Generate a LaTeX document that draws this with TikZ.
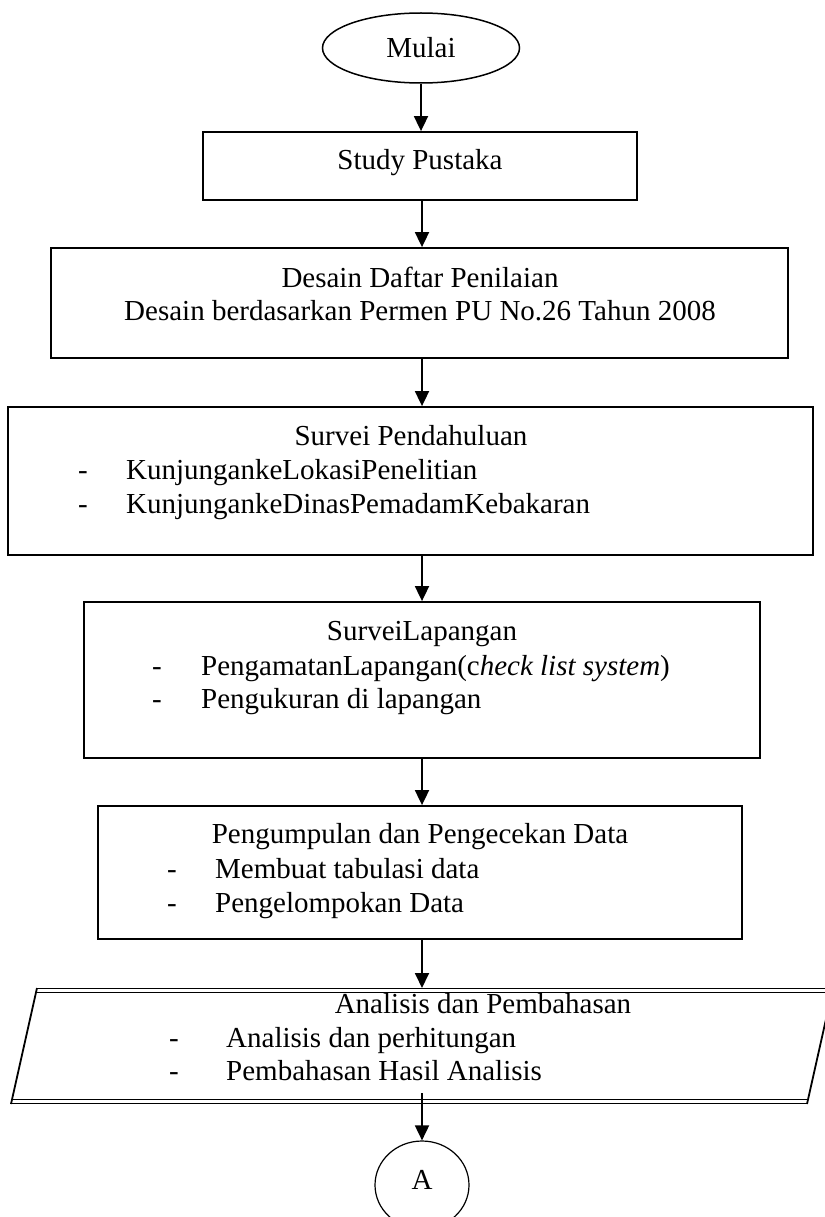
\documentclass[tikz,border=0pt]{standalone}
\usepackage{fontspec}
\setmainfont{Liberation Serif}
\usetikzlibrary{arrows.meta,shapes.geometric}
\begin{document}
\begin{tikzpicture}[x=1pt,y=-1pt,
  box/.style={draw,line width=1.8pt,rectangle,inner sep=0pt},
  lbl/.style={anchor=base,inner sep=0pt,font=\fontsize{29}{34}\selectfont},
  lbll/.style={anchor=base west,inner sep=0pt,font=\fontsize{29}{34}\selectfont},
  arr/.style={line width=1.8pt,-{Triangle[length=15pt,width=14pt]}},
  edge/.style={line width=1.8pt},
  thinedge/.style={line width=1.3pt},
]
\useasboundingbox (0,0) rectangle (824,1217);

% start / end terminals
\node[ellipse,draw,line width=1.5pt,minimum width=197pt,minimum height=70pt,inner sep=0pt] (mulai) at (421,48) {};
\node[lbl] (tmulai) at (421,58) {Mulai};

\node[ellipse,draw,line width=1.2pt,minimum width=94pt,minimum height=88pt,inner sep=0pt] (A) at (422,1185) {};
\node[lbl] (tA) at (422,1189) {A};

% Study Pustaka
\node[box,minimum width=434pt,minimum height=68pt] (study) at (420,166) {};
\node[lbl] (tstudy) at (420,170) {Study Pustaka};

% Desain
\node[box,minimum width=737pt,minimum height=110pt] (desain) at (419.5,303) {};
\node[lbl] (tdesain1) at (420,287) {Desain Daftar Penilaian};
\node[lbl] (tdesain2) at (420,320) {Desain berdasarkan Permen PU No.26 Tahun 2008};

% Survei Pendahuluan
\node[box,minimum width=805pt,minimum height=148pt] (survei) at (410.5,481) {};
\node[lbl] (tsurvei) at (411,445) {Survei Pendahuluan};
\node[lbll] (ds1) at (78,479) {-};
\node[lbll] (ts1) at (126,479) {KunjungankeLokasiPenelitian};
\node[lbll] (ds2) at (78,513) {-};
\node[lbll] (ts2) at (126,513) {KunjungankeDinasPemadamKebakaran};

% Survei Lapangan
\node[box,minimum width=676pt,minimum height=156pt] (lapangan) at (422,680) {};
\node[lbl] (tlap) at (422,640) {SurveiLapangan};
\node[lbll] (dl1) at (152,675) {-};
\node[lbll] (tl1) at (201,675) {PengamatanLapangan(c\textit{heck list system})};
\node[lbll] (dl2) at (152,708) {-};
\node[lbll] (tl2) at (201,708) {Pengukuran di lapangan};

% Pengumpulan
\node[box,minimum width=644pt,minimum height=133pt] (kumpul) at (420,872.5) {};
\node[lbl] (tkumpul) at (420,843) {Pengumpulan dan Pengecekan Data};
\node[lbll] (dk1) at (167,878) {-};
\node[lbll] (tk1) at (215,878) {Membuat tabulasi data};
\node[lbll] (dk2) at (167,912) {-};
\node[lbll] (tk2) at (215,912) {Pengelompokan Data};

% Analisis parallelogram
\coordinate (pTL) at (37,988);
\coordinate (pTR) at (833,988);
\coordinate (pBR) at (807,1104);
\coordinate (pBL) at (11,1104);
\coordinate (analtop) at (422,988);
\coordinate (astart) at (422,1093);
\draw[edge] (pTL) -- (pBL);
\draw[edge] (pTR) -- (pBR);
\draw[thinedge] (37,988.6) -- (833,988.6);
\draw[thinedge] (36,992.8) -- (833,992.8);
\draw[thinedge] (12,1099.4) -- (808,1099.4);
\draw[thinedge] (11,1103.5) -- (807,1103.5);
\node[lbl] (tanal) at (483,1013) {Analisis dan Pembahasan};
\node[lbll] (da1) at (169,1047) {-};
\node[lbll] (ta1) at (226,1047) {Analisis dan perhitungan};
\node[lbll] (da2) at (169,1080) {-};
\node[lbll] (ta2) at (226,1080) {Pembahasan Hasil Analisis};

% connectors
\draw[arr] (mulai.south) -- (mulai.south |- study.north);
\draw[arr] (study.south -| A) -- (desain.north -| A);
\draw[arr] (desain.south -| A) -- (survei.north -| A);
\draw[arr] (survei.south -| A) -- (lapangan.north -| A);
\draw[arr] (lapangan.south -| A) -- (kumpul.north -| A);
\draw[arr] (kumpul.south -| A) -- (analtop);
\draw[arr] (astart) -- (A.north);
\end{tikzpicture}
\end{document}
